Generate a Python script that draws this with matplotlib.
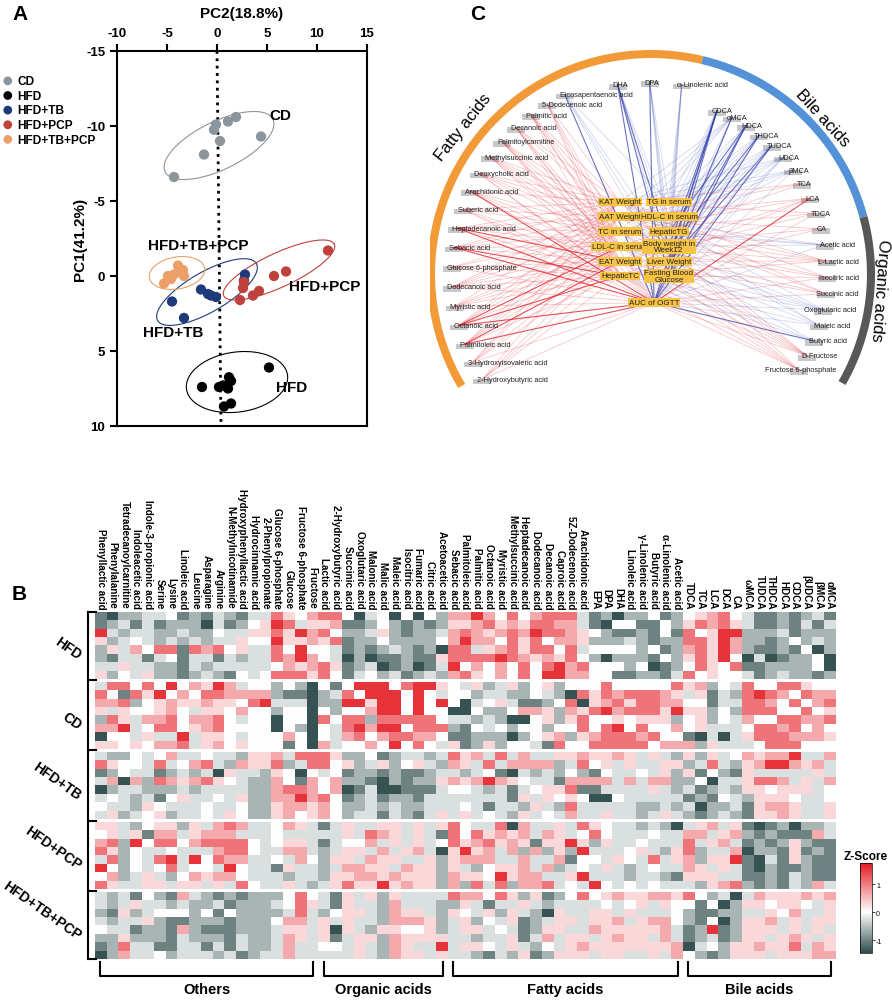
import numpy as np
import matplotlib
matplotlib.use("Agg")
import matplotlib.pyplot as plt
from matplotlib.colors import LinearSegmentedColormap, Normalize
from matplotlib.patches import Rectangle

plt.rcParams['font.family'] = ['Liberation Sans', 'DejaVu Sans']
plt.rcParams['axes.unicode_minus'] = False

W, H = 892, 1003


def frect(x0, y0, x1, y1):
    # caja en pixeles de la figura -> fracciones
    return [x0 / W, 1 - y1 / H, (x1 - x0) / W, (y1 - y0) / H]


# ---------------- Panel A: datos PCA ----------------
grupos_pca = ['CD', 'HFD', 'HFD+TB', 'HFD+PCP', 'HFD+TB+PCP']
colores_pca = ['#8c959c', '#000000', '#1f3a7a', '#c0403c', '#eba06a']
pc2_cd = [1.1, 1.9, -0.1, -0.3, 0.3, 4.4, -1.3, -4.3]
pc1_cd = [-10.3, -10.6, -10.1, -9.75, -9.0, -9.3, -8.1, -6.6]
pc2_hfd = [5.2, -1.5, 0.2, 0.6, 1.2, 1.4, 1.1, 0.7, 1.4]
pc1_hfd = [6.1, 7.4, 7.4, 7.3, 6.75, 7.0, 7.5, 8.7, 8.5]
pc2_tb = [2.8, 2.7, -1.6, -0.9, -0.6, -0.1, -4.5, -3.3]
pc1_tb = [-0.1, 0.3, 0.9, 1.2, 1.3, 1.4, 1.7, 2.8]
pc2_pcp = [5.7, 6.9, 2.7, 2.6, 3.6, 4.2, 2.3, 11.1]
pc1_pcp = [0.0, -0.3, 0.4, 0.8, 1.3, 1.0, 1.6, -1.7]
pc2_tbpcp = [-3.9, -3.4, -4.3, -4.9, -3.3, -4.6, -5.3, -3.8]
pc1_tbpcp = [-0.7, -0.4, -0.1, 0.0, 0.0, 0.2, 0.5, -0.3]
pc2_todos = [pc2_cd, pc2_hfd, pc2_tb, pc2_pcp, pc2_tbpcp]
pc1_todos = [pc1_cd, pc1_hfd, pc1_tb, pc1_pcp, pc1_tbpcp]

# ---------------- Panel B: heatmap ----------------
cols_otros = ['Phenyllactic acid', 'Phenylalanine', 'Tetradecanoylcarnitine', 'Indoleacetic acid',
              'Indole-3-propionic acid', 'Serine', 'Lysine', 'Linoleic acid', 'Leucine', 'Asparagine',
              'Arginine', 'N-Methylnicotinamide', 'Hydroxyphenyllactic acid', 'Hydrocinnamic acid',
              '2-Phenylpropionate', 'Glucose 6-phosphate', 'Glucose', 'Fructose 6-phosphate', 'Fructose']
cols_organicos = ['Lactic acid', '2-Hydroxybutyric acid', 'Succinic acid', 'Oxoglutaric acid', 'Malonic acid',
                  'Malic acid', 'Maleic acid', 'Isocitric acid', 'Fumaric acid', 'Citric acid', 'Acetoacetic acid']
cols_grasos = ['Sebacic acid', 'Palmitoleic acid', 'Palmitic acid', 'Octanoic acid', 'Myristic acid',
               'Methylsuccinic acid', 'Heptadecanoic acid', 'Dodecanoic acid', 'Decanoic acid', 'Caproic acid',
               '5Z-Dodecenoic acid', 'Arachidonic acid', 'EPA', 'DPA', 'DHA', 'Linoleic acid',
               'γ-Linolenic acid', 'Butyric acid', 'α-Linolenic acid', 'Acetic acid']
cols_biliares = ['TDCA', 'TCA', 'LCA', 'DCA', 'CA', 'ωMCA', 'TUDCA', 'THDCA', 'HDCA', 'CDCA',
                 'βUDCA', 'βMCA', 'αMCA']
bloques_cols = [('Others', cols_otros), ('Organic acids', cols_organicos),
                ('Fatty acids', cols_grasos), ('Bile acids', cols_biliares)]
grupos_heat = ['HFD', 'CD', 'HFD+TB', 'HFD+PCP', 'HFD+TB+PCP']

niveles = {'D': -1.4, 'd': -1.0, 'g': -0.6, 'l': -0.25, '.': 0.0,
           'p': 0.3, 'q': 0.65, 'r': 1.05, 'R': 1.55}
izq = [
    "dDggll.dgdlgdllrp.qrr.Dl.D.D.gq", "dgldldgggDldg.pRrlppqddg.gdgdgp",
    "Rlgllgglgg.llpprpRqr.gglpgdgglq", "pgl.lglglgllp..Rppqprdgg.gggg.q",
    "gplq.rrdrqr.pllr.R..ldgdglgdgDr", "gdlldl.dlldlgllrqRq.lDgDddgddpr",
    "llpllggdlglllll.qpqrpdglDdgDdlR", "pg.lpggdglgd.l.rrrpr.dl.gldglgq",
    "lrr.r.R.qpRql..g.gD.d.RRR.rRRp.", "r.drpR.q.rrqqqqgddDglr.RRR.R.l.",
    "qqrg.pqppqpp.rRlllDggRRpRR.R.R.", "plp..pq.lpp.q..g..D.g..qRR.R..D",
    "grplqqr.qqr.l..D..Dr.rrgrrrrr.l", "qqRl.rr.pqr....D.gD.lrRqRR.rrrg",
    "D..lpllRlpp.l...q.D.lqr.qrrqq.d", "pp.p.qqrlpq.p...d.Dql..q.R.r.lp",
    "lgg.l.qll.llgppqlrrrpgg.dgllglr", "rp..lrl.qrlgqpprglrr.pglpg.plgq",
    "dg.lldglglDpllgp.D.l.dggdgddgll", "lqDqgrqpqrp.lggq.dq.qggdDgdggpq",
    "Dgllggglgllllggqrrq.qDdlDDdddl.", "l.lgld.pll.lpggqqRqr.dgldggdlll",
    ".llgp.lll.ll.ggpqqpq.gglglgglll", "lpgl.pgll.lp.ggpq.pq.glldlgdlpl",
    "pplg.ppgplqrqll.qpldlpllpplplpr", ".plpdqqlpqqqlll.lllllplrqplpldr",
    "qrgR.rr.qrrrr.l.ppldl..qlplpl.r", "rpg.ll.lllqrr.llqqlglpplqlpqlDp",
    "lrg.lrRlR.rqqll.lq.gpplqppllpgp", "R.g.l.rl..lR.lldpllglqqpplqppgp",
    ".qglplg.qpqq.lllgllgppqqpqpppgq", "rpllpplpplplr.llplglprppRpqppgq",
    "lgld.gdqlgdgdggg.r.ldplpgpllllr", "lglpllglggldgggl.rpldpllgqlllgg",
    "gdpgl...g.d.gggglrlg.pplgqpplgp", "lgllpgddgggdggg.qqlplpllgqqqpgl",
    ".lldggdqgdddggglpplpDplgpp..pgl", "ggpgggdlgggdlgglqplpdlppgqppppl",
    "dgrllddlldldlgglqll..lplgqpllRl", "Dgqll.glllgldgllqlllllplgqpplpl",
]
der = [
    "qRq.r.qrrrldgDgg.dg.pqr.lddgdgld", "pqrpqprrqqldD..dd.gprqrplddgdldl",
    "rqpqrqRrrqp.gddgd.dr.pRRgggldggg", "Rqq.rpr.qqpggglgdggrrpRqggdg.glg",
    "rlpqrprr.rl....g.dgqrpRqgddgd.Dg", "rrrRrqpqpr.gDgggd.gprpR.DlDdgg.D",
    ".q.q.r.rRqr...g.Ddg.rp.rddgggg.D", "rp.q.r.RRqq..ddggdlr.p..ldglggdg",
    "lpglpg.pg...r.....rpqg.lr..rrp..", ".gllgg.lgDrprqrrrqplpdlgrRrq.rqq",
    "Dl.plddg.rDpqrprrqq..dllrrq.r.qr", "D.gg.qqpgqprRqrrrpRppg.grrr..r.p",
    "lglgDD.pgpr..p.pppg.pg.lq..rrqqr", "d.l.g..g..r.rR.r..q.plll.rrqr.q.",
    "dgggDg.pqgpqrrrqr..dDlDlprrrqqqp", "dgpg..ldr..rrrrr.qqqgplll.rrr...",
    "pqlrlqllppqppqplplgpgpl.qpqqRllq", "plrlqqqqglr.plpllppglrlgpqRRqpql",
    "gl.dDlglg.gd.ll.lpgpd.gdplllllpl", "pqRqp.lldqqqqlqlqqgg.Dllprrqlplq",
    ".lgldl.pprddllllplgldglgpp.pppl.", "lllldplp.p.DD.llllldgd.lgppp.ll.",
    ".ldllgplgrlllllgglglDggldpqqpllp", "pl.lgpl.lqllpllglplgdglgdppqpllp",
    ".llrDqllplrp.llglgDlpqlpdDdgDggl", ".rpqpqlqpl.r.lll.llqqlpqgdgdddql",
    "pqrpqpdppRpgpll.lllrlpqldgdgpgdd", "RpqlqgqgpgRlll.plgprgllqDggdpdgd",
    "qqqllqllqd..lp.lrlpqgppRdDldpgdd", "lg.ppqlqgl.lplgl.llqplpldDgddgdd",
    "pp.RpqqllpRlllgllgdpppllddgdlgdd", "grlrgqqrl.lR.l.l.lllgpqrgdgdlgql",
    "qq.rpgpdg.r.pqppqqpr.glDlqpppqpq", "pldllplgllll.l.plp..d.Dgpp.pp.lp",
    ".lpgplgDpllpplplll.gddggllp.qllp", "pg.lpdglpplppqlpqq.gd.Dgppqlplpp",
    "ppl.ldgppllqpppppqldgRdgppplplpl", "lgllpdlqlpplpqpplqldgldgpplpqplp",
    "pp.lplg.lpqpppppppqDl.gppqpprlqp", "lgdlgpdgppplppllplq.gdgppplpppqq",
]

# ---------------- Panel C: red de correlaciones ----------------
arcos = [('Fatty acids', '#f29a38'), ('Bile acids', '#5392d6'), ('Organic acids', '#585858')]
metabolitos_red = ['2-Hydroxybutyric acid', '3-Hydroxyisovaleric acid', 'Palmitoleic acid', 'Octanoic acid',
                   'Myristic acid', 'Dodecanoic acid', 'Glucose 6-phosphate', 'Sebacic acid',
                   'Heptadecanoic acid', 'Suberic acid', 'Arachidonic acid', 'Deoxycholic acid',
                   'Methylsuccinic acid', 'Palmitoylcarnitine', 'Decanoic acid', 'Palmitic acid',
                   '5-Dodecenoic acid', 'Eicosapentaenoic acid',
                   'DHA', 'DPA', 'α-Linolenic acid',
                   'CDCA', 'αMCA', 'HDCA', 'THDCA', 'TUDCA', 'UDCA', 'βMCA', 'TCA', 'LCA', 'TDCA', 'CA',
                   'Acetic acid', 'L-Lactic acid', 'Isocitric acid', 'Succinic acid', 'Oxoglutaric acid',
                   'Maleic acid', 'Butyric acid', 'D-Fructose', 'Fructose 6-phosphate']
indices_clin = ['KAT Weight', 'TG in serum', 'AAT Weight', 'HDL-C in serum', 'TC in serum', 'HepaticTG',
                'LDL-C in serum', 'Body weight in\nWeek12', 'EAT Weight', 'Liver Weight', 'HepaticTC',
                'Fasting Blood\nGlucose', 'AUC of OGTT']
# r/R: correlacion positiva (debil/fuerte), b/B: negativa
enlaces = [
    "..r...r.r.r.r", "r.r...r.r...r", "r.r.r.r.R.r.R", "r.r.r.R.r.R.R", "r...r.r.r.r.r",
    "r.r.r.r.r.r.r", "..r.r...r.r.r", "r.r.r.r.r.R.R", "r.r.r.r.R.r.R", "r.r.r...r.r.r",
    "r...r.r.r.r.R", "r.r.r.r...r.r", "r.r.r.r.r...r", "..r.r.r.r.r.r", "r.r...r.r.r.r",
    "r.r.r.r...r.r", "r...r.r.r.r..", ".b.....b.b.bB",
    "...b.b.B.b.BB", ".b...b.b.b.bB", ".b.b.b.b.b.b.",
    ".b.b.b.B.B.BB", "b.b.b.bb.b.bB", ".b.b.B.b.B.bB", ".b.b.b.B.b.Bb", ".b.b.b.b.B.bB",
    "bb.b.b...b.bb", "b.b.b...b...b", "r.r...r......", "..r.r...r.r.R", "r...r...r...r",
    "..r...r...r..", "..b.bb.b....b", "r.r.r.r.r.r..", "r...r.r...r.r", "r.r...r.r...r",
    "b...b.b.b.b.b", "b.b...b...b.b", "....b...b.b.B", "r.r.r.r.r.r.r", "r...r.r.r.r.r",
]

fig = plt.figure(figsize=(W / 100, H / 100), dpi=100)

# ======================= Panel A =======================
axA = fig.add_axes(frect(117, 52, 367, 427))
axA.set_xlim(-10, 15)
axA.set_ylim(10, -15)
axA.xaxis.tick_top()
axA.xaxis.set_label_position('top')
axA.set_xticks(range(-10, 16, 5))
axA.set_yticks(range(-15, 11, 5))
axA.tick_params(labelsize=9.5, width=1.5, length=5)
for lab in axA.get_xticklabels() + axA.get_yticklabels():
    lab.set_fontweight('bold')
axA.set_xlabel('PC2(18.8%)', fontsize=11, fontweight='bold', labelpad=7)
axA.set_ylabel('PC1(41.2%)', fontsize=11, fontweight='bold')
axA.yaxis.set_label_coords(-0.118, 0.5)
for s in axA.spines.values():
    s.set_linewidth(1.5)

axA.plot([0, 0.4], [-15, 10], color='k', lw=2, ls=':', zorder=1)

# escala px por unidad para las elipses
sx = (367 - 117) / 25
sy = (427 - 52) / 25
elipses = [(0.2, -8.7, 60, 24, 26), (2.0, 7.07, 51, 30, 8), (-1.0, 1.07, 57, 20, 30),
           (6.2, -0.4, 61, 17, 25), (-4.0, -0.2, 28, 16, 10)]
t = np.linspace(0, 2 * np.pi, 200)
handles = []
for i, g in enumerate(grupos_pca):
    cx, cy, a, b, ang = elipses[i]
    th = np.radians(ang)
    dx = a * np.cos(t) * np.cos(th) - b * np.sin(t) * np.sin(th)
    dy = a * np.cos(t) * np.sin(th) + b * np.sin(t) * np.cos(th)
    axA.plot(cx + dx / sx, cy - dy / sy, color=colores_pca[i], lw=0.8, zorder=2)
    h = axA.scatter(pc2_todos[i], pc1_todos[i], s=55, color=colores_pca[i], zorder=3,
                    edgecolors='none', label=g)
    handles.append(h)

etiquetas_a = [('CD', 6.3, -10.7), ('HFD', 7.5, 7.4), ('HFD+TB', -4.4, 3.75),
               ('HFD+PCP', 10.8, 0.67), ('HFD+TB+PCP', -1.9, -2.07)]
for txt, x, y in etiquetas_a:
    axA.text(x, y, txt, fontsize=11, fontweight='bold', ha='center', va='center', zorder=4)

fig.legend(handles=handles, loc='upper left', bbox_to_anchor=(0.0, 1 - 76 / H), frameon=False,
           prop={'weight': 'bold', 'size': 8.6}, handletextpad=0.15, labelspacing=0.22,
           borderaxespad=0, borderpad=0, handlelength=1.3, markerscale=0.85)

fig.text(12 / W, 1 - 15 / H, 'A', fontsize=15, fontweight='bold', va='center')
fig.text(12 / W, 1 - 594 / H, 'B', fontsize=15, fontweight='bold', va='center')
fig.text(478 / W, 1 - 15 / H, 'C', fontsize=15, fontweight='bold', va='center', ha='center')

# ======================= Panel B =======================
filas = []
for a_, b_ in zip(izq, der):
    f = (a_ + b_).ljust(63, '.')[:63]
    filas.append([niveles[c] for c in f])
Z = np.array(filas)

vmin, vmax = -1.45, 1.75
cmap = LinearSegmentedColormap.from_list(
    'zs', [(0, '#2f4c4c'), (-vmin / (vmax - vmin), '#ffffff'), (1, '#e31b23')])
norm = Normalize(vmin=vmin, vmax=vmax)

columnas = [c for _, cs in bloques_cols for c in cs]
ncol = len(columnas)
gap = 0.36
paso = 8 + gap
alto = 5 * paso - gap

axB = fig.add_axes(frect(95, 613, 836, 960))
for g in range(5):
    y0 = g * paso
    axB.imshow(Z[g * 8:(g + 1) * 8], cmap=cmap, norm=norm, aspect='auto',
               interpolation='nearest', extent=(0, ncol, y0 + 8, y0))
axB.set_xlim(0, ncol)
axB.set_ylim(alto, 0)
axB.axis('off')

for i, nombre in enumerate(columnas):
    axB.text(i + 0.5, -0.45, nombre, rotation=-90, rotation_mode='anchor', ha='right', va='center',
             fontsize=7.1, fontweight='bold')

# corchete izquierdo y nombres de grupo
xb = -0.6
axB.plot([xb, xb], [0, alto], color='k', lw=1.5, clip_on=False)
for yb in [0] + [g * paso - gap / 2 for g in range(1, 5)] + [alto]:
    axB.plot([xb, 0.05], [yb, yb], color='k', lw=1.5, clip_on=False)
for g, nombre in enumerate(grupos_heat):
    axB.text(-1.3, g * paso + 5.3, nombre, rotation=-35, rotation_mode='anchor', ha='right',
             va='center', fontsize=10, fontweight='bold')

# corchetes inferiores
inicio = 0
for nombre, cs in bloques_cols:
    a0, a1 = inicio + 0.45, inicio + len(cs) - 0.45
    yt, yl = alto + 0.4, alto + 2.05
    axB.plot([a0, a0, a1, a1], [yt, yl, yl, yt], color='k', lw=1.5, clip_on=False)
    axB.text((a0 + a1) / 2, alto + 3.6, nombre, ha='center', va='center', fontsize=10.5,
             fontweight='bold')
    inicio += len(cs)

cax = fig.add_axes(frect(860, 864, 872, 954))
sm = plt.cm.ScalarMappable(norm=norm, cmap=cmap)
cb = fig.colorbar(sm, cax=cax, ticks=[-1, 0, 1])
cb.ax.tick_params(labelsize=5, length=2, width=0.5, pad=1)
cb.outline.set_linewidth(0.5)
cax.set_title('Z-Score', fontsize=8.5, fontweight='bold', pad=3)

# ======================= Panel C =======================
axC = fig.add_axes(frect(430, 0, 892, 400))
axC.set_xlim(-221, 241)
axC.set_ylim(-125, 275)
axC.axis('off')

R_arco = 220
limites_arco = [210.6, 76.5, 15.0, -29.7]
for k, (nombre, col) in enumerate(arcos):
    a0, a1 = limites_arco[k], limites_arco[k + 1]
    tt = np.radians(np.linspace(a0, a1, 200))
    axC.plot(R_arco * np.cos(tt), R_arco * np.sin(tt), color=col, lw=5.8, solid_capstyle='butt')
pos_texto_arco = [(141.8, 239), (42.5, 232), (-4.0, 229)]
for (nombre, col), (ang, rr) in zip(arcos, pos_texto_arco):
    axC.text(rr * np.cos(np.radians(ang)), rr * np.sin(np.radians(ang)), nombre, fontsize=12,
             rotation=ang - 90, rotation_mode='anchor', ha='center', va='center')

# posiciones de nodos por sectores
sectores = [(212, 115.7, 18, 199), (100, 80.8, 3, 192), (68, -33, 20, 176)]
angs = np.concatenate([np.linspace(a0, a1, n) for a0, a1, n, r in sectores])
rads = np.concatenate([np.full(n, r) for a0, a1, n, r in sectores])
nx = rads * np.cos(np.radians(angs))
ny = rads * np.sin(np.radians(angs))

renderer = fig.canvas.get_renderer()
inv = axC.transData.inverted()
R_in = 211
for i, nombre in enumerate(metabolitos_red):
    axC.add_patch(Rectangle((nx[i] - 9, ny[i] - 4.8), 18, 5.5, color='#c8c8c8', lw=0, zorder=1))
    tx = axC.text(nx[i] - 5, ny[i], nombre, fontsize=5.3, ha='left', va='center', color='#222222',
                  zorder=3)
    bb = tx.get_window_extent(renderer)
    (d0, _), (d1, _) = inv.transform([[bb.x0, bb.y0], [bb.x1, bb.y0]])
    ancho = d1 - d0
    if nx[i] > 0:
        xmax = np.sqrt(max(R_in ** 2 - ny[i] ** 2, 0)) - 3
        if nx[i] - 5 + ancho > xmax:
            tx.set_x(xmax - ancho)

col_x = [-31, 18]
fila_y0, paso_y = 72, 14.8
ix, iy = [], []
for i in range(len(indices_clin) - 1):
    ix.append(col_x[i % 2])
    iy.append(fila_y0 - paso_y * (i // 2))
ix.append(3)
iy.append(fila_y0 - paso_y * 6.8)
for i, nombre in enumerate(indices_clin):
    axC.text(ix[i], iy[i], nombre, fontsize=5.8, ha='center', va='center', color='#222222',
             linespacing=0.85, zorder=4,
             bbox=dict(boxstyle='square,pad=0.1', fc='#f6c344', ec='none'))

estilos = {'r': ('#e53a44', 0.28, 0.6), 'R': ('#e0262f', 0.8, 0.8),
           'b': ('#3d4fb8', 0.22, 0.6), 'B': ('#2d3aa8', 0.7, 0.8)}
for i, patron in enumerate(enlaces):
    for j, c in enumerate(patron):
        if c in estilos:
            col, al, lw = estilos[c]
            axC.plot([nx[i], ix[j]], [ny[i], iy[j]], color=col, alpha=al, lw=lw, zorder=2)

fig.savefig('out.png', dpi=100)
